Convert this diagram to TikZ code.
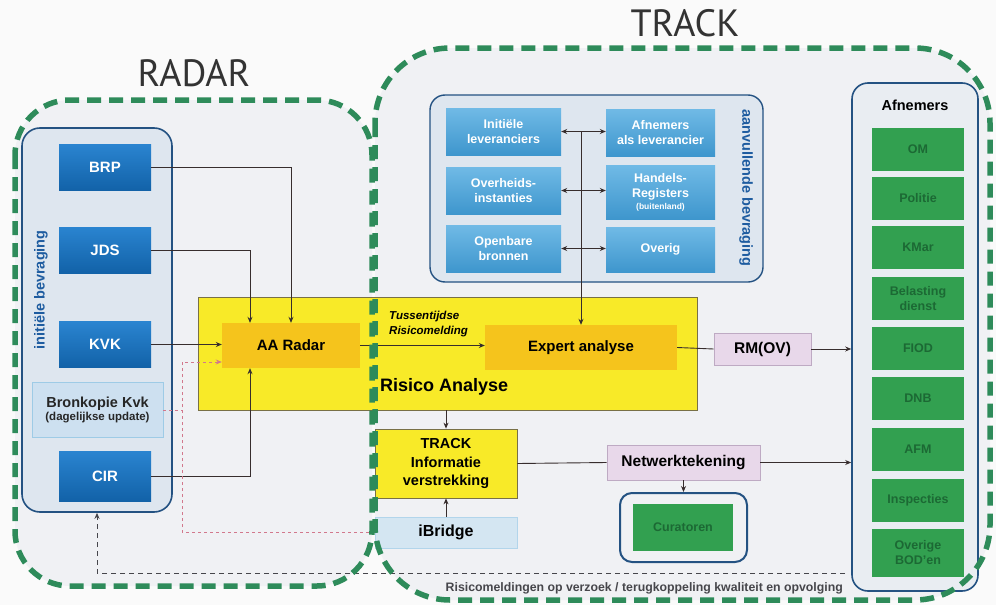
\documentclass[tikz,border=0pt]{standalone}
\usepackage{fontspec}
\setmainfont{Liberation Sans}
\newfontfamily\titlefont{PT Sans}
\usetikzlibrary{arrows.meta,calc}
\definecolor{bgreen}{RGB}{46,139,90}
\definecolor{blueT}{RGB}{42,132,208}
\definecolor{blueB}{RGB}{18,98,168}
\definecolor{lbT}{RGB}{112,186,230}
\definecolor{lbB}{RGB}{62,150,205}
\definecolor{contfill}{RGB}{222,230,239}
\definecolor{contdraw}{RGB}{36,82,130}
\definecolor{ylw}{RGB}{248,234,40}
\definecolor{org}{RGB}{245,196,28}
\definecolor{lav}{RGB}{232,216,234}
\definecolor{lavdraw}{RGB}{190,170,195}
\definecolor{grn}{RGB}{50,160,80}
\definecolor{grntext}{RGB}{28,105,52}
\definecolor{lineC}{RGB}{55,45,45}
\definecolor{pinkC}{RGB}{210,120,140}
\definecolor{vlabel}{RGB}{30,92,160}
\definecolor{bkfill}{RGB}{205,224,240}
\definecolor{ibfill}{RGB}{212,230,242}
\definecolor{regfill}{RGB}{240,241,244}
\definecolor{pagebg}{RGB}{250,250,250}
\definecolor{ybord}{RGB}{120,112,70}
\definecolor{fbC}{RGB}{70,70,75}
\tikzset{
  container/.style={draw=contdraw, line width=1.6pt, fill=contfill, rounded corners=18pt, inner sep=0pt},
  bluebox/.style={top color=blueT, bottom color=blueB, text=white, font=\fontsize{15}{17}\selectfont\bfseries, minimum width=92pt, minimum height=46pt, inner sep=0pt},
  lbbox/.style={top color=lbT, bottom color=lbB, text=white, font=\fontsize{12.5}{15}\selectfont\bfseries, align=center, minimum height=47pt, inner sep=0pt},
  grnbox/.style={fill=grn, text=grntext, font=\fontsize{12.5}{14.5}\selectfont\bfseries, align=center, minimum width=92pt, minimum height=43pt, inner sep=0pt},
  yelbox/.style={fill=ylw, draw=ybord, line width=0.8pt, inner sep=0pt},
  orgbox/.style={fill=org, font=\fontsize{15}{18}\selectfont\bfseries, inner sep=0pt, minimum height=45pt},
  lavbox/.style={fill=lav, draw=lavdraw, line width=0.8pt, font=\fontsize{15.5}{18}\selectfont\bfseries, inner sep=0pt},
  conn/.style={draw=lineC, line width=0.9pt},
  arr/.style={conn, -{Stealth[length=6pt,width=5pt]}},
  darr/.style={conn, {Stealth[length=6pt,width=5pt]}-{Stealth[length=6pt,width=5pt]}},
  pinkline/.style={draw=pinkC, line width=1pt, dash pattern=on 3pt off 3pt},
  fbline/.style={draw=fbC, line width=1pt, dash pattern=on 5pt off 4pt},
  boundary/.style={draw=bgreen, line width=5.5pt, dash pattern=on 14pt off 8pt, rounded corners=55pt},
  region/.style={fill=regfill, rounded corners=55pt},
  vtext/.style={text=vlabel, font=\fontsize{14.5}{16}\selectfont\bfseries, inner sep=0pt}
}
\begin{document}
\begin{tikzpicture}[x=1pt,y=-1pt]
\useasboundingbox (0,0) rectangle (996,605);
\fill[pagebg] (0,0) rectangle (996,605);
% regions
\path[region] (15,100) rectangle (372,586);
\path[region, rounded corners=75pt] (375,48) rectangle (990,600);

% ---------- RADAR side ----------
\node[container, minimum width=150pt, minimum height=384pt] (ini) at (97,320) {};
\node[vtext, rotate=90] (inilab) at (41,290) {initiële bevraging};
\node[bluebox] (brp) at (105,167.5) {BRP};
\node[bluebox] (jds) at (105,250) {JDS};
\node[bluebox] (kvk) at (105,344.5) {KVK};
\node[bluebox, minimum height=50pt] (cir) at (105,476) {CIR};
\node[fill=bkfill, draw=lbB!50, line width=0.6pt, minimum width=131pt, minimum height=55pt, inner sep=0pt, align=center, text=black!85] (bk) at (97.5,410)
  {{\fontsize{14.5}{16}\selectfont\bfseries Bronkopie Kvk}\\[1pt]{\fontsize{11.5}{13}\selectfont\bfseries (dagelijkse update)}};

% ---------- Risico Analyse ----------
\node[yelbox, minimum width=499pt, minimum height=113pt] (ra) at (447.5,353.5) {};
\node[orgbox, minimum width=138pt] (aar) at (291,345.5) {AA Radar};
\node[orgbox, minimum width=192pt] (exp) at (581,347.5) {Expert analyse};
\node[anchor=west, inner sep=0pt, align=left, font=\fontsize{11.5}{14.5}\selectfont\bfseries\itshape] (tus) at (389,324) {Tussentijdse\\Risicomelding};
\node[anchor=west, inner sep=0pt, font=\fontsize{18}{20}\selectfont\bfseries] (ralab) at (380,387) {Risico Analyse};
\node[lavbox, minimum width=97pt, minimum height=32pt] (rmov) at (762.5,349) {RM(OV)};

% ---------- TRACK lower ----------
\node[yelbox, minimum width=142pt, minimum height=69pt, align=center, font=\fontsize{14.5}{18.5}\selectfont\bfseries] (ti) at (446,463.5) {TRACK\\Informatie\\verstrekking};
\node[fill=ibfill, draw=lbB!40, line width=0.6pt, minimum width=142pt, minimum height=31pt, inner sep=0pt, font=\fontsize{16}{18}\selectfont\bfseries] (ib) at (446,532.5) {iBridge};
\node[lavbox, minimum width=153pt, minimum height=35pt] (nw) at (683.5,462.5) {Netwerktekening};
\node[container, line width=2pt, fill=regfill, rounded corners=12pt, minimum width=127pt, minimum height=69pt] (cur) at (683.5,527.5) {};
\node[grnbox, minimum width=100pt, minimum height=47pt] (curin) at (683,527.5) {Curatoren};

% ---------- aanvullende bevraging ----------
\node[container, line width=1.4pt, rounded corners=15pt, minimum width=333pt, minimum height=187pt] (aan) at (596.5,188.5) {};
\node[vtext, rotate=-90] (aanlab) at (746,188) {aanvullende bevraging};
\node[lbbox, minimum width=115pt] (l1) at (503.5,131.5) {Initiële\\leveranciers};
\node[lbbox, minimum width=115pt] (l2) at (503.5,190.5) {Overheids-\\instanties};
\node[lbbox, minimum width=115pt] (l3) at (503.5,248.5) {Openbare\\bronnen};
\node[lbbox, minimum width=109pt] (r1) at (660.5,132.5) {Afnemers\\als leverancier};
\node[lbbox, minimum width=109pt, minimum height=54pt] (r2) at (660.5,192) {Handels-\\Registers\\[-3pt]{\fontsize{8.5}{9}\selectfont (buitenland)}};
\node[lbbox, minimum width=109pt, minimum height=45pt] (r3) at (660.5,249.5) {Overig};

% ---------- Afnemers ----------
\node[container, fill=regfill!60!contfill, rounded corners=16pt, minimum width=126pt, minimum height=508pt] (afn) at (915,337) {};
\node[inner sep=0pt, font=\fontsize{14.5}{16}\selectfont\bfseries] (afnlab) at (915,105) {Afnemers};
\node[grnbox] (om) at (918,149) {OM};
\node[grnbox] (pol) at (918,198.5) {Politie};
\node[grnbox] (kmar) at (918,247.5) {KMar};
\node[grnbox] (bel) at (918,298.5) {Belasting\\dienst};
\node[grnbox] (fiod) at (918,348.5) {FIOD};
\node[grnbox] (dnb) at (918,398.5) {DNB};
\node[grnbox] (afm) at (918,449) {AFM};
\node[grnbox] (insp) at (918,500) {Inspecties};
\node[grnbox, minimum height=48pt] (ovb) at (918,552.5) {Overige\\BOD'en};

% ---------- connectors ----------
\draw[arr] (brp.east) -| (aar.north);
\draw[arr] (jds.east) -| ([xshift=-41pt]aar.north);
\draw[arr] (kvk.east) -- (kvk.east -| aar.west);
\draw[arr] (cir.east) -| ([xshift=-41pt]aar.south);
\coordinate (pk) at (182,362);
\draw[pinkline, -{Stealth[length=6pt,width=5pt]}] (ib.west) -| (pk) -- (pk -| aar.west);
\draw[pinkline] (bk.east) -- (bk.east -| pk);
\draw[arr] (aar.east) -- (aar.east -| exp.west);
\draw[conn] (exp.east) -- (rmov.west);
\draw[arr] (rmov.east) -- (rmov.east -| afn.west);
\draw[arr] (l1.east -| exp.north) -- (exp.north);
\draw[darr] (l1.east) -- (l1.east -| r1.west);
\draw[darr] (l2.east) -- (l2.east -| r2.west);
\draw[darr] (l3.east) -- (l3.east -| r3.west);
\draw[arr] (ra.south -| ti.north) -- (ti.north);
\draw[arr] (ib.north) -- (ti.south);
\draw[conn] (ti.east) -- (nw.west);
\draw[arr] (nw.east) -- (nw.east -| afn.west);
\draw[arr] (nw.south) -- (cur.north);
\coordinate (fb) at (97,573);
\coordinate (fbr) at (845,573);
\draw[fbline, -{Stealth[length=6pt,width=5pt]}] (fbr) -- (fb) -- (ini.south);
\node[anchor=east, inner sep=0pt, text=fbC, font=\fontsize{12.3}{14}\selectfont\bfseries] (fblab) at (843,588) {Risicomeldingen op verzoek / terugkoppeling kwaliteit en opvolging};

% ---------- boundaries ----------
\draw[boundary] (15,100) rectangle (372,586);
\draw[boundary, rounded corners=75pt] (375,48) rectangle (990,600);
\node[font=\titlefont\fontsize{38}{40}\selectfont, text=black!80] (radar) at (194,73) {RADAR};
\node[font=\titlefont\fontsize{38}{40}\selectfont, text=black!80] (track) at (685,23) {TRACK};
\end{tikzpicture}
\end{document}
